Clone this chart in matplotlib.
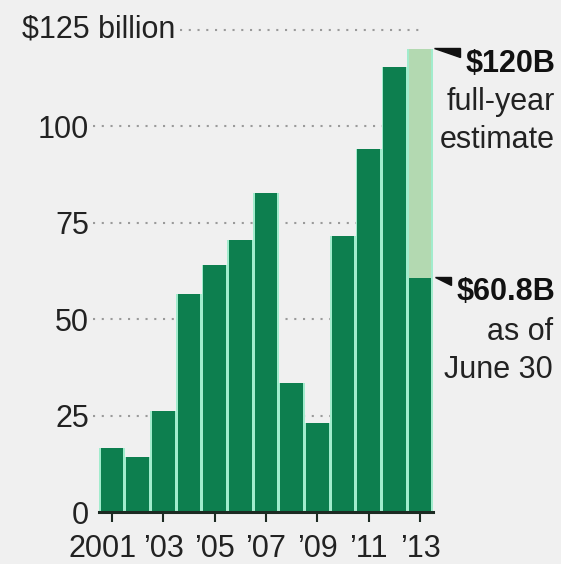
import matplotlib
matplotlib.use("Agg")
import matplotlib.pyplot as plt
import matplotlib.transforms as mtransforms
from matplotlib.patches import Polygon

# values in $ billion
years = list(range(2001, 2014))
totals = [16.6, 14.3, 26.2, 56.5, 64.0, 70.5, 82.8, 33.4, 23.1, 71.5, 94.2, 115.3, 60.8]
estimate_2013 = 120.0
yticks = [0, 25, 50, 75, 100]
ytick_labels = ["0", "25", "50", "75", "100"]
xtick_years = [2001, 2003, 2005, 2007, 2009, 2011, 2013]
xtick_labels = ["2001", "\u201903", "\u201905", "\u201907", "\u201909", "\u201911", "\u201913"]

BG = "#f0f0f0"
DARK = "#0d7f4f"
MINT = "#a2eccd"
LIGHT = "#b3d9b1"
INK = "#222222"
GRID = "#9a9a9a"

plt.rcParams["font.family"] = ["Liberation Sans", "DejaVu Sans"]
W, H = 561, 564
fig = plt.figure(figsize=(W / 100, H / 100), dpi=100, facecolor=BG)


def px(x, y):
    return x / W, 1 - y / H


ax = fig.add_axes([99 / W, 52 / H, 334 / W, 482 / H])
ax.set_facecolor(BG)
ax.set_xlim(-0.5, len(years) - 0.5)
ax.set_ylim(0, 125)

xs = list(range(len(years)))

# dotted guide lines
for v in yticks[1:]:
    ax.plot([-0.73, 12.0], [v, v], color=GRID, lw=1.5, ls=(0, (1, 3.2)),
            clip_on=False, zorder=0)
ax.plot([2.65, 12.0], [125, 125], color=GRID, lw=1.5, ls=(0, (1, 3.2)),
        clip_on=False, zorder=0)

# bars: mint backing, dark fill, light estimate on top of 2013
ax.bar(xs[-1], estimate_2013, width=1.0, color=MINT, zorder=1)
ax.bar(xs, totals, width=1.0, color=MINT, zorder=1)
ax.bar(xs[-1], estimate_2013, width=0.88, color=LIGHT, zorder=2)
ax.bar(xs, totals, width=0.88, color=DARK, zorder=3)

ax.axhline(0, color="#1c2a22", lw=2.2, zorder=4, clip_on=False)

for s in ax.spines.values():
    s.set_visible(False)

ax.set_yticks(yticks)
ax.set_yticklabels(ytick_labels)
ax.tick_params(axis="y", length=0, pad=7, labelsize=22, labelcolor=INK)

ax.set_xticks([years.index(y) for y in xtick_years])
ax.set_xticklabels(xtick_labels)
ax.tick_params(axis="x", length=7, width=1.5, color="#1c2a22", direction="out",
               pad=9, labelsize=22, labelcolor=INK)
first = ax.get_xticklabels()[0]
first.set_transform(first.get_transform() +
                    mtransforms.ScaledTranslation(-9 / 100, 0, fig.dpi_scale_trans))

fig.text(*px(22, 30), "$125 billion", fontsize=22, color=INK, ha="left", va="center")

# annotations on the right
fig.text(*px(555, 72), "$120B", fontsize=22, fontweight="bold", color="#111111",
         ha="right", va="baseline")
fig.text(*px(555, 110), "full-year", fontsize=22, color=INK, ha="right", va="baseline")
fig.text(*px(555, 148), "estimate", fontsize=22, color=INK, ha="right", va="baseline")

fig.text(*px(555, 300), "$60.8B", fontsize=22, fontweight="bold", color="#111111",
         ha="right", va="baseline")
fig.text(*px(553, 340), "as of", fontsize=22, color=INK, ha="right", va="baseline")
fig.text(*px(553, 378), "June 30", fontsize=22, color=INK, ha="right", va="baseline")

for tri in ([(434, 48), (460, 48), (460, 57)], [(435, 277), (451, 277), (451, 285)]):
    fig.patches.append(Polygon([px(x, y) for x, y in tri], closed=True,
                               transform=fig.transFigure, color="#111111"))

fig.savefig("out.png", dpi=100, facecolor=BG)
